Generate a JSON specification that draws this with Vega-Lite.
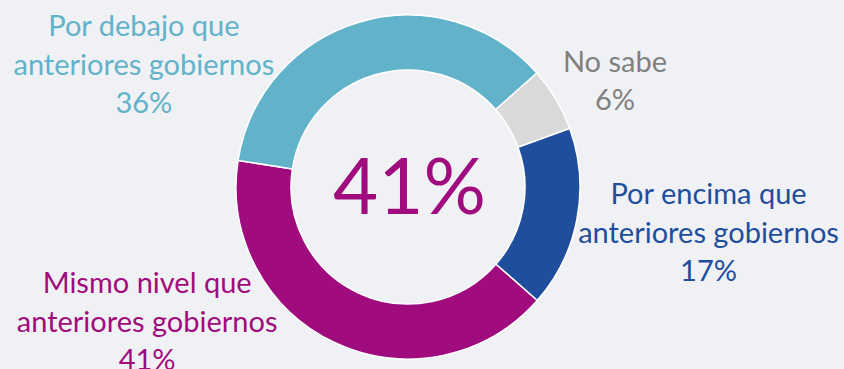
{
  "$schema": "https://vega.github.io/schema/vega-lite/v6.json",
  "width": 816,
  "height": 374,
  "autosize": {"type": "none"},
  "padding": {"left": 0, "right": 28, "top": 0, "bottom": 0},
  "background": "#f0f1f5",
  "view": {"stroke": null},
  "data": {"values": [
    {"cat": "No sabe", "order": 1, "value": 0.06, "label": "No sabe\n6%"},
    {"cat": "Por encima", "order": 2, "value": 0.17, "label": "Por encima que\nanteriores gobiernos\n17%"},
    {"cat": "Mismo nivel", "order": 3, "value": 0.41, "label": "Mismo nivel que\nanteriores gobiernos\n41%"},
    {"cat": "Por debajo", "order": 4, "value": 0.36, "label": "Por debajo que\nanteriores gobiernos\n36%"}
  ]},
  "layer": [
    {
      "mark": {"type": "arc", "outerRadius": 172, "innerRadius": 117, "stroke": "white", "strokeWidth": 1.5},
      "encoding": {
        "theta": {"field": "value", "type": "quantitative", "stack": true, "scale": {"range": [0.8465, 7.1297]}},
        "order": {"field": "order", "type": "quantitative"},
        "color": {"field": "cat", "type": "nominal", "legend": null,
          "scale": {"domain": ["No sabe", "Por encima", "Mismo nivel", "Por debajo"],
                    "range": ["#d9d9d9", "#1f4e9c", "#a00c7e", "#62b3c9"]}}
      }
    },
    {
      "mark": {"type": "text", "radius": 200, "dx": 35, "dy": -22, "font": "Lato", "fontSize": 29, "lineHeight": 38.5, "lineBreak": "\n", "align": "center", "baseline": "middle", "color": "#808080"},
      "encoding": {
        "theta": {"field": "value", "type": "quantitative", "stack": true, "scale": {"range": [0.8465, 7.1297]}},
        "order": {"field": "order", "type": "quantitative"},
        "text": {"condition": {"test": "datum.cat === 'No sabe'", "field": "label"}, "value": ""}
      }
    },
    {
      "mark": {"type": "text", "radius": 200, "dx": 104, "dy": -29, "font": "Lato", "fontSize": 29, "lineHeight": 38.5, "lineBreak": "\n", "align": "center", "baseline": "middle", "color": "#1f4e9c"},
      "encoding": {
        "theta": {"field": "value", "type": "quantitative", "stack": true, "scale": {"range": [0.8465, 7.1297]}},
        "order": {"field": "order", "type": "quantitative"},
        "text": {"condition": {"test": "datum.cat === 'Por encima'", "field": "label"}, "value": ""}
      }
    },
    {
      "mark": {"type": "text", "radius": 200, "dx": -176, "dy": -84, "font": "Lato", "fontSize": 29, "lineHeight": 38.5, "lineBreak": "\n", "align": "center", "baseline": "middle", "color": "#a00c7e"},
      "encoding": {
        "theta": {"field": "value", "type": "quantitative", "stack": true, "scale": {"range": [0.8465, 7.1297]}},
        "order": {"field": "order", "type": "quantitative"},
        "text": {"condition": {"test": "datum.cat === 'Mismo nivel'", "field": "label"}, "value": ""}
      }
    },
    {
      "mark": {"type": "text", "radius": 200, "dx": -208, "dy": 32, "font": "Lato", "fontSize": 29, "lineHeight": 38.5, "lineBreak": "\n", "align": "center", "baseline": "middle", "color": "#62b3c9"},
      "encoding": {
        "theta": {"field": "value", "type": "quantitative", "stack": true, "scale": {"range": [0.8465, 7.1297]}},
        "order": {"field": "order", "type": "quantitative"},
        "text": {"condition": {"test": "datum.cat === 'Por debajo'", "field": "label"}, "value": ""}
      }
    },
    {
      "transform": [{"filter": "datum.cat === 'Mismo nivel'"}],
      "mark": {"type": "text", "font": "Lato", "fontSize": 78, "align": "center", "baseline": "middle", "dx": 1.5, "dy": 3.5, "color": "#a00c7e"},
      "encoding": {
        "text": {"field": "value", "type": "quantitative", "format": ".0%"}
      }
    }
  ]
}
